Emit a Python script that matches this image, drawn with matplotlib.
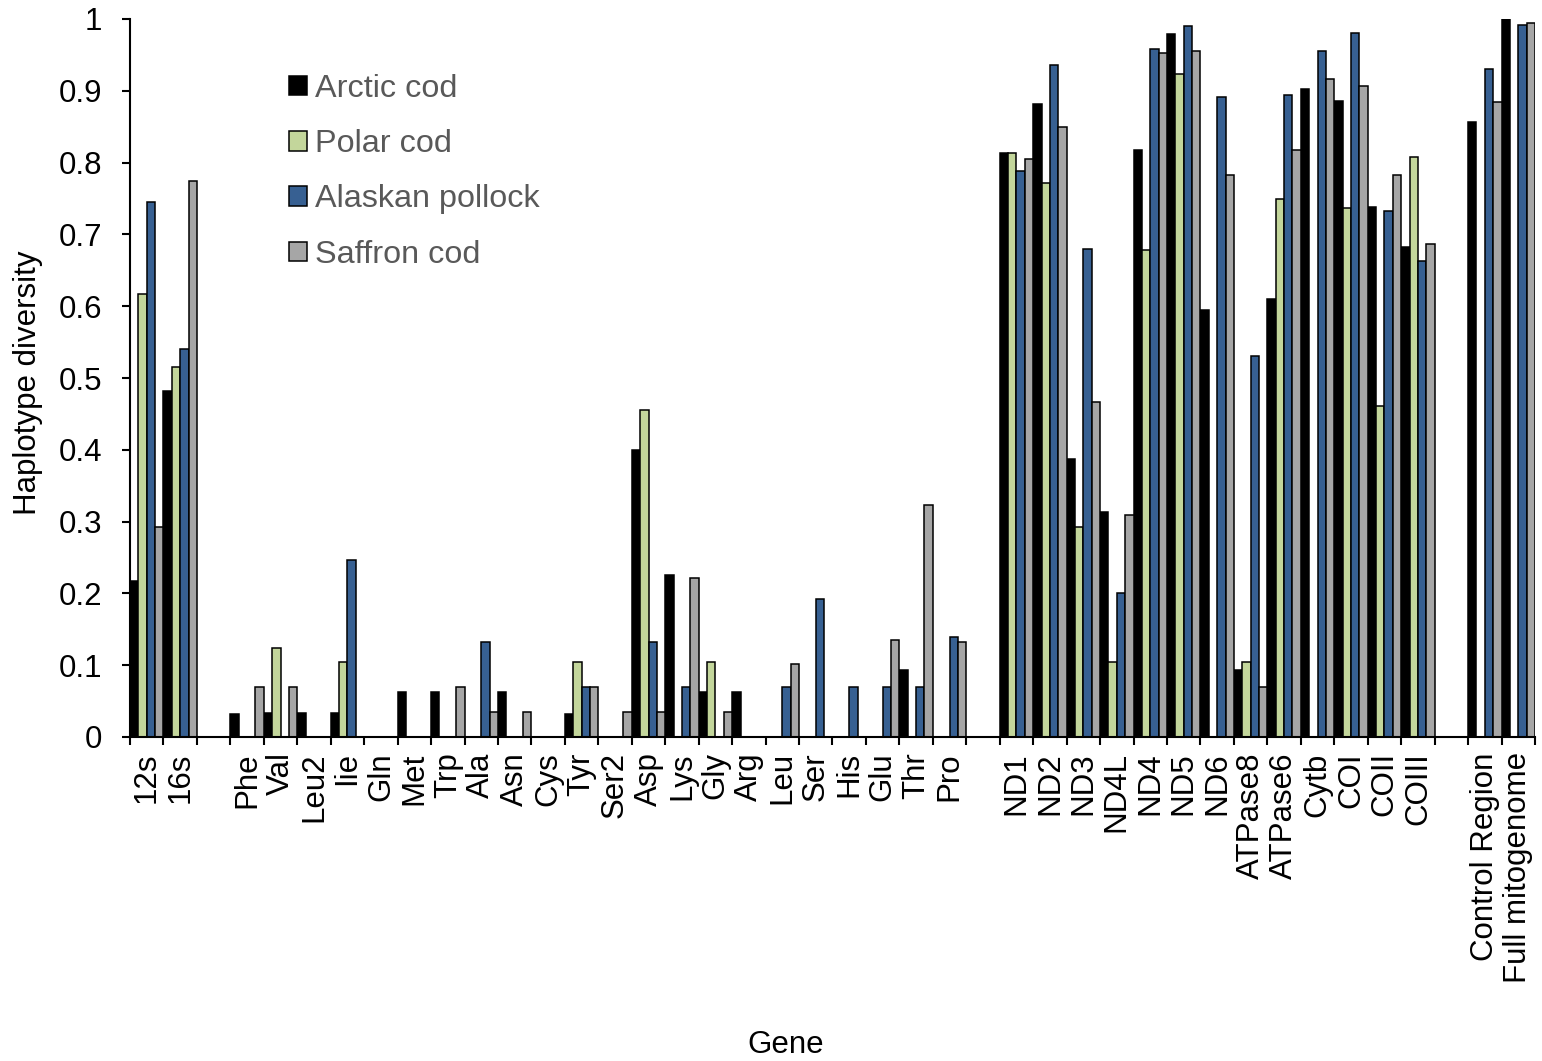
import numpy as np
import matplotlib
matplotlib.use("Agg")
import matplotlib.pyplot as plt
from matplotlib.ticker import FuncFormatter, MultipleLocator

plt.rcParams["font.family"] = ["Liberation Sans", "DejaVu Sans"]

# Gene categories (blank entries are the gaps between groups)
genes = ["12s", "16s", "", "Phe", "Val", "Leu2", "Iie", "Gln", "Met", "Trp",
         "Ala", "Asn", "Cys", "Tyr", "Ser2", "Asp", "Lys", "Gly", "Arg", "Leu",
         "Ser", "His", "Glu", "Thr", "Pro", "", "ND1", "ND2", "ND3", "ND4L",
         "ND4", "ND5", "ND6", "ATPase8", "ATPase6", "Cytb", "COI", "COII",
         "COIII", "", "Control Region", "Full mitogenome"]

arctic_cod = [0.217, 0.482, 0, 0.032, 0.033, 0.033, 0.033, 0, 0.063, 0.062,
              0, 0.063, 0, 0.032, 0, 0.400, 0.225, 0.063, 0.063, 0,
              0, 0, 0, 0.093, 0, 0, 0.813, 0.882, 0.387, 0.314,
              0.817, 0.979, 0.595, 0.093, 0.610, 0.902, 0.886, 0.738,
              0.683, 0, 0.856, 1.000]

polar_cod = [0.617, 0.515, 0, 0, 0.124, 0, 0.104, 0, 0, 0,
             0, 0, 0, 0.104, 0, 0.455, 0, 0.104, 0, 0,
             0, 0, 0, 0, 0, 0, 0.813, 0.772, 0.292, 0.104,
             0.678, 0.924, 0, 0.104, 0.750, 0, 0.737, 0.461,
             0.808, 0, 0, 0]

alaskan_pollock = [0.745, 0.540, 0, 0, 0, 0, 0.246, 0, 0, 0,
                   0.132, 0, 0, 0.069, 0, 0.132, 0.069, 0, 0, 0.069,
                   0.192, 0.069, 0.070, 0.070, 0.139, 0, 0.788, 0.936, 0.680, 0.200,
                   0.958, 0.990, 0.892, 0.530, 0.894, 0.955, 0.980, 0.733,
                   0.663, 0, 0.930, 0.992]

saffron_cod = [0.292, 0.774, 0, 0.070, 0.070, 0, 0, 0, 0, 0.070,
               0.035, 0.035, 0, 0.070, 0.035, 0.035, 0.222, 0.035, 0, 0.102,
               0, 0, 0.135, 0.323, 0.132, 0, 0.805, 0.850, 0.466, 0.309,
               0.953, 0.955, 0.783, 0.069, 0.818, 0.917, 0.907, 0.783,
               0.687, 0, 0.884, 0.994]

series_names = ["Arctic cod", "Polar cod", "Alaskan pollock", "Saffron cod"]
series_values = [arctic_cod, polar_cod, alaskan_pollock, saffron_cod]
colors = ["#000000", "#C3D69B", "#376092", "#A6A6A6"]

fig = plt.figure(figsize=(15.42, 10.61), dpi=100)
ax = fig.add_axes([130 / 1542, 1 - 737 / 1061, 1405 / 1542, 718 / 1061])

x = np.arange(len(genes))
width = 0.25
for i, (name, vals, col) in enumerate(zip(series_names, series_values, colors)):
    vals = np.array(vals, dtype=float)
    mask = vals > 0
    ax.bar(x[mask] + (i - 1.5) * width, vals[mask], width=width, color=col,
           edgecolor="black", linewidth=1.1, label=name)

ax.set_xlim(-0.5, len(genes) - 0.5)
ax.set_ylim(0, 1)

# labels at category centres, tick marks at category boundaries
ax.set_xticks(x)
ax.set_xticklabels(genes, rotation=90, fontsize=22.5)
ax.set_xticks(np.arange(len(genes) + 1) - 0.5, minor=True)
ax.tick_params(axis="x", which="major", length=0, pad=11)
ax.tick_params(axis="x", which="minor", length=6, width=1.5, direction="out")

ax.yaxis.set_major_locator(MultipleLocator(0.1))
ax.yaxis.set_major_formatter(FuncFormatter(lambda v, p: f"{v:g}"))
ax.tick_params(axis="y", length=6, width=1.5, labelsize=22.5, pad=14)

for side in ["top", "right"]:
    ax.spines[side].set_visible(False)
for side in ["left", "bottom"]:
    ax.spines[side].set_linewidth(1.5)

fig.text(28 / 1542, 1 - 383 / 1061, "Haplotype diversity", rotation=90,
         ha="center", va="center", fontsize=22.5)
fig.text(786 / 1542, 1 - 1045 / 1061, "Gene", ha="center", va="center",
         fontsize=22.5)

leg = ax.legend(loc="upper left", bbox_to_anchor=(289 / 1542, 1 - 74 / 1061),
                bbox_transform=fig.transFigure, frameon=False, fontsize=23.3,
                handlelength=0.55, handleheight=0.55, handletextpad=0.25,
                labelspacing=0.78, borderaxespad=0, borderpad=0)
for t in leg.get_texts():
    t.set_color("#595959")

fig.savefig("out.png", dpi=100)
